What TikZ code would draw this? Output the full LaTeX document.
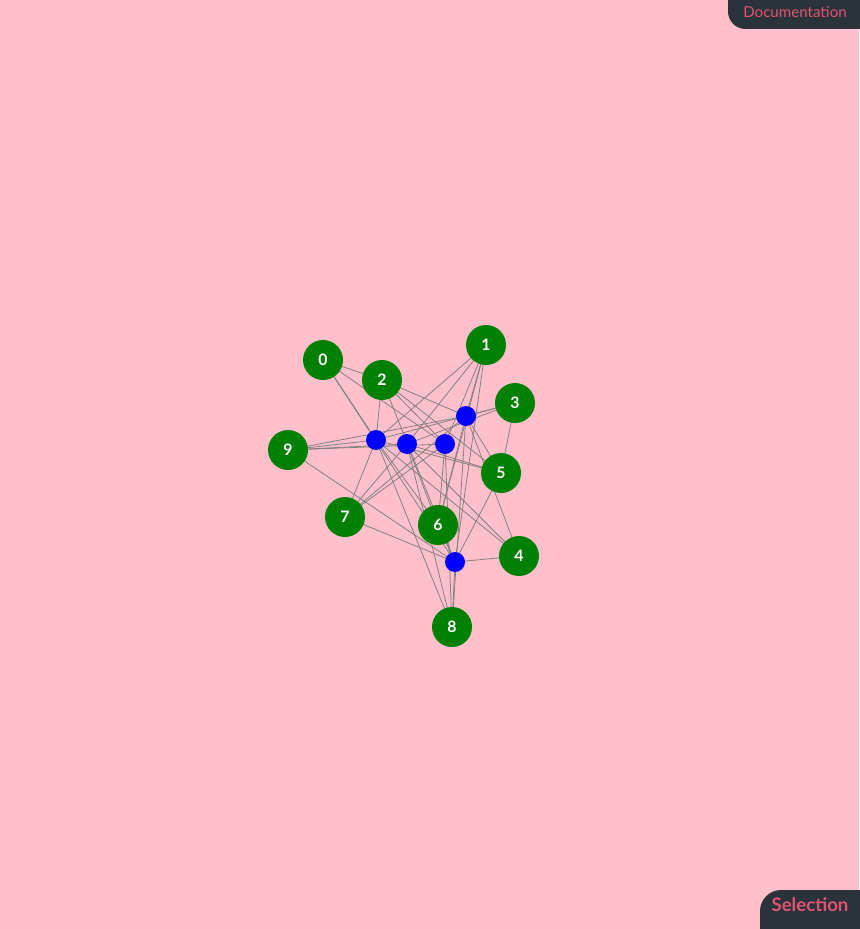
\documentclass[tikz,border=0pt]{standalone}
\usepackage{fontspec}
\setmainfont{Lato}
\usetikzlibrary{backgrounds}
\definecolor{bgpink}{RGB}{255,192,203}
\definecolor{tabgrey}{RGB}{42,50,58}
\definecolor{tabtext}{RGB}{226,84,114}
\tikzset{
  vert/.style={circle, fill=green!50!black, minimum size=40*0.02cm, inner sep=0pt, text=white, font=\bfseries\fontsize{9}{9}\selectfont},
  hub/.style={circle, fill=blue, minimum size=20*0.02cm, inner sep=0pt},
  link/.style={draw=gray, line width=0.45pt}
}
\begin{document}
\begin{tikzpicture}[x=0.02cm, y=-0.02cm]
			%%%%% START %%%%%
			
			\useasboundingbox (0, 0) rectangle (859, 929);
			
			% tab labels
			\node[text=tabtext, font=\fontsize{8.6}{9}\selectfont] (doc) at (795, 12) {Documentation};
			\node[text=tabtext, font=\bfseries\fontsize{10.6}{11}\selectfont] (sel) at (810, 905) {Selection};
			
			% green vertices
			\node[vert] (v0) at (323, 360) {0};
			\node[vert] (v1) at (486, 345) {1};
			\node[vert] (v2) at (382, 380) {2};
			\node[vert] (v3) at (515, 403) {3};
			\node[vert] (v4) at (519, 556) {4};
			\node[vert] (v5) at (501, 473) {5};
			\node[vert] (v6) at (438, 525) {6};
			\node[vert] (v7) at (345, 517) {7};
			\node[vert] (v8) at (452, 627) {8};
			\node[vert] (v9) at (288, 450) {9};
			
			% blue hubs
			\node[hub] (h1) at (376, 440) {};
			\node[hub] (h2) at (407, 444) {};
			\node[hub] (h3) at (445, 444) {};
			\node[hub] (h4) at (466, 416) {};
			\node[hub] (h5) at (455, 562) {};
			
			\begin{scope}[on background layer]
			\fill[bgpink] (0, 0) rectangle (859, 929);
			\fill[tabgrey, rounded corners=10] (728, -20) rectangle (880, 29);
			\fill[tabgrey, rounded corners=12] (760, 890) rectangle (880, 950);
			% links
			\draw[link] (v0.center) -- (v2.center);
			\draw[link] (v0.center) -- (h1.center);
			\draw[link] (v0.center) -- (h3.center);
			\draw[link] (v0.center) -- (h5.center);
			\draw[link] (v2.center) -- (h1.center);
			\draw[link] (v2.center) -- (h3.center);
			\draw[link] (v2.center) -- (h4.center);
			\draw[link] (v2.center) -- (h5.center);
			\draw[link] (v2.center) -- (v5.center);
			\draw[link] (v1.center) -- (h1.center);
			\draw[link] (v1.center) -- (h2.center);
			\draw[link] (v1.center) -- (h3.center);
			\draw[link] (v1.center) -- (h4.center);
			\draw[link] (v1.center) -- (h5.center);
			\draw[link] (v1.center) -- (v6.center);
			\draw[link] (v3.center) -- (h1.center);
			\draw[link] (v3.center) -- (h2.center);
			\draw[link] (v3.center) -- (h4.center);
			\draw[link] (v3.center) -- (v5.center);
			\draw[link] (v9.center) -- (h1.center);
			\draw[link] (v9.center) -- (h2.center);
			\draw[link] (v9.center) -- (h3.center);
			\draw[link] (v9.center) -- (h4.center);
			\draw[link] (v9.center) -- (h5.center);
			\draw[link] (v7.center) -- (h1.center);
			\draw[link] (v7.center) -- (h2.center);
			\draw[link] (v7.center) -- (h3.center);
			\draw[link] (v7.center) -- (h4.center);
			\draw[link] (v7.center) -- (h5.center);
			\draw[link] (v5.center) -- (h1.center);
			\draw[link] (v5.center) -- (h2.center);
			\draw[link] (v5.center) -- (h4.center);
			\draw[link] (v5.center) -- (h5.center);
			\draw[link] (v6.center) -- (h1.center);
			\draw[link] (v6.center) -- (h2.center);
			\draw[link] (v6.center) -- (h3.center);
			\draw[link] (v6.center) -- (h4.center);
			\draw[link] (v6.center) -- (h5.center);
			\draw[link] (v4.center) -- (h1.center);
			\draw[link] (v4.center) -- (h2.center);
			\draw[link] (v4.center) -- (h4.center);
			\draw[link] (v4.center) -- (h5.center);
			\draw[link] (v8.center) -- (h1.center);
			\draw[link] (v8.center) -- (h2.center);
			\draw[link] (v8.center) -- (h3.center);
			\draw[link] (v8.center) -- (h4.center);
			\draw[link] (v8.center) -- (h5.center);
			\end{scope}
			
			%%%%% END %%%%%
\end{tikzpicture}
\end{document}
